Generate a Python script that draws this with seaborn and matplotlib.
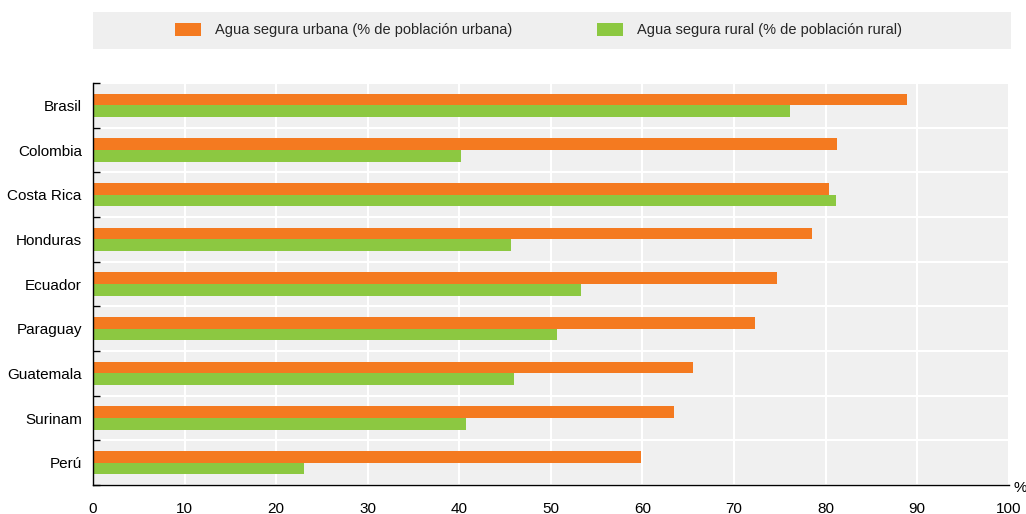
import matplotlib

matplotlib.use("Agg")

import matplotlib.pyplot as plt
import numpy as np
import pandas as pd
import seaborn as sns
from matplotlib.patches import Rectangle
from matplotlib.ticker import FixedLocator, MultipleLocator

countries = ["Brasil", "Colombia", "Costa Rica", "Honduras", "Ecuador",
             "Paraguay", "Guatemala", "Surinam", "Perú"]
urbana = [88.9, 81.2, 80.4, 78.5, 74.7, 72.3, 65.5, 63.4, 59.8]
rural = [76.1, 40.2, 81.1, 45.6, 53.3, 50.7, 46.0, 40.7, 23.0]
series_names = ["Agua segura urbana (% de población urbana)",
                "Agua segura rural (% de población rural)"]
colors = ["#F47A20", "#8CC841"]

sns.set_theme(style="white")
plt.rcParams["font.family"] = ["Liberation Sans", "DejaVu Sans"]

df = pd.DataFrame({
    "País": countries * 2,
    "Valor": urbana + rural,
    "Serie": [series_names[0]] * len(countries) + [series_names[1]] * len(countries),
})

fig = plt.figure(figsize=(10.26, 5.14), dpi=100)
ax = fig.add_axes([0.0906, 0.0564, 0.8925, 0.7821])

sns.barplot(data=df, x="Valor", y="País", hue="Serie", order=countries,
            hue_order=series_names, palette=colors, width=0.52,
            orient="h", ax=ax, saturation=1, edgecolor="none")

ax.set_facecolor("#F0F0F0")
ax.set_xlim(0, 100)
ax.set_ylim(len(countries) - 0.5, -0.5)
ax.set_xlabel("")
ax.set_ylabel("")

ax.xaxis.set_major_locator(MultipleLocator(10))
ax.yaxis.set_minor_locator(FixedLocator(np.arange(-0.5, len(countries), 1)))
ax.grid(axis="x", which="major", color="white", linewidth=1.5)
ax.grid(axis="y", which="minor", color="white", linewidth=1.5)
ax.set_axisbelow(True)

for side in ["top", "right"]:
    ax.spines[side].set_visible(False)
for side in ["left", "bottom"]:
    ax.spines[side].set_color("black")
    ax.spines[side].set_linewidth(1.0)

ax.tick_params(axis="x", which="major", direction="in", length=5, width=1,
               color="black", labelsize=11, pad=12, labelcolor="black")
ax.tick_params(axis="y", which="major", length=0, labelsize=11, pad=8,
               labelcolor="black")
ax.tick_params(axis="y", which="minor", direction="in", length=5, width=1,
               color="black", left=True)

ax.text(1.0055, 0.01, "%", transform=ax.transAxes, ha="left", va="top",
        fontsize=11, color="black")

# legend strip on top
ax.get_legend().remove()
fig.patches.append(Rectangle((0.0906, 0.9047), 0.8947, 0.072,
                             transform=fig.transFigure, facecolor="#EFEFEF",
                             edgecolor="none", zorder=0))
handles = [Rectangle((0, 0), 1, 1, facecolor=c, edgecolor="none") for c in colors]
fig.legend(handles, series_names, loc="center", bbox_to_anchor=(0.525, 0.9416),
           ncol=2, frameon=False, fontsize=10.5, handlelength=1.8,
           handleheight=1.0, columnspacing=5.8, handletextpad=0.95)

fig.savefig("out.png", dpi=100)
plt.close(fig)
